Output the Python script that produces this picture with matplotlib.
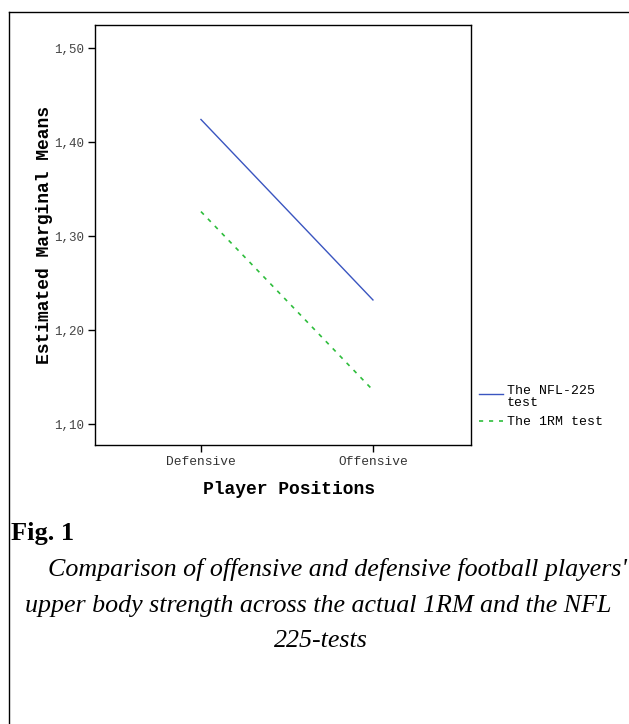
import matplotlib
matplotlib.use("Agg")
import matplotlib.pyplot as plt
from matplotlib.lines import Line2D

positions = ["Defensive", "Offensive"]
nfl225 = [1.424, 1.232]
rm1 = [1.326, 1.136]
yticks = [1.10, 1.20, 1.30, 1.40, 1.50]
ytick_labels = ["1,10", "1,20", "1,30", "1,40", "1,50"]
series_names = ["The NFL-225\ntest", "The 1RM test"]
caption_lines = ["Comparison of offensive and defensive football players'",
                 "upper body strength across the actual 1RM and the NFL",
                 "225-tests"]

mono = "Liberation Mono"
blue = "#3a55c0"
green = "#2ebd3c"
fig = plt.figure(figsize=(6.29, 7.24), dpi=100)
W, H = 629, 724

# outer frame (top and left only)
fig.add_artist(Line2D([9 / W, 9 / W], [0, 1 - 12 / H], color="black", lw=1))
fig.add_artist(Line2D([9 / W, 1], [1 - 12 / H, 1 - 12 / H], color="black", lw=1))

ax = fig.add_axes([95 / W, 1 - 445 / H, (471 - 95) / W, (445 - 25) / H])
x = range(len(positions))
ax.plot(x, nfl225, color=blue, lw=1)
ax.plot(x, rm1, color=green, lw=1.2, ls=(0, (2.5, 3.5)))
ax.set_xlim(-0.616, 1.57)
ax.set_ylim(1.0777, 1.5245)
ax.set_xticks(list(x))
ax.set_xticklabels(positions, family=mono, fontsize=9.3, color="#333333")
ax.set_yticks(yticks)
ax.set_yticklabels(ytick_labels, family=mono, fontsize=9, color="#444444")
ax.tick_params(length=5, width=1, pad=3)
for s in ax.spines.values():
    s.set_linewidth(1)
ax.set_xlabel("Player Positions", family=mono, fontsize=13, fontweight="bold")
ax.xaxis.set_label_coords(0.516, -0.086)
ax.set_ylabel("Estimated Marginal Means", family=mono, fontsize=13, fontweight="bold")
ax.yaxis.set_label_coords(-0.112, 0.5)

# legend drawn outside the axes
fig.add_artist(Line2D([479 / W, 503 / W], [1 - 394 / H] * 2, color=blue, lw=1))
fig.add_artist(Line2D([479 / W, 503 / W], [1 - 421 / H] * 2, color=green, lw=1.2, ls=(0, (2.5, 3.5))))
fig.text(507 / W, 1 - 385 / H, series_names[0], family=mono, fontsize=9.5, va="top", linespacing=1.0)
fig.text(507 / W, 1 - 422 / H, series_names[1], family=mono, fontsize=9.5, va="center")

fig.text(11 / W, 1 - 540 / H, "Fig. 1", family="Liberation Serif", fontsize=19,
         fontweight="bold", va="baseline")
for line, cx, base in zip(caption_lines, [337, 318, 321], [576, 612, 647]):
    fig.text(cx / W, 1 - base / H, line, family="Liberation Serif", fontsize=18.7,
             style="italic", ha="center", va="baseline")

fig.savefig("out.png", dpi=100)
